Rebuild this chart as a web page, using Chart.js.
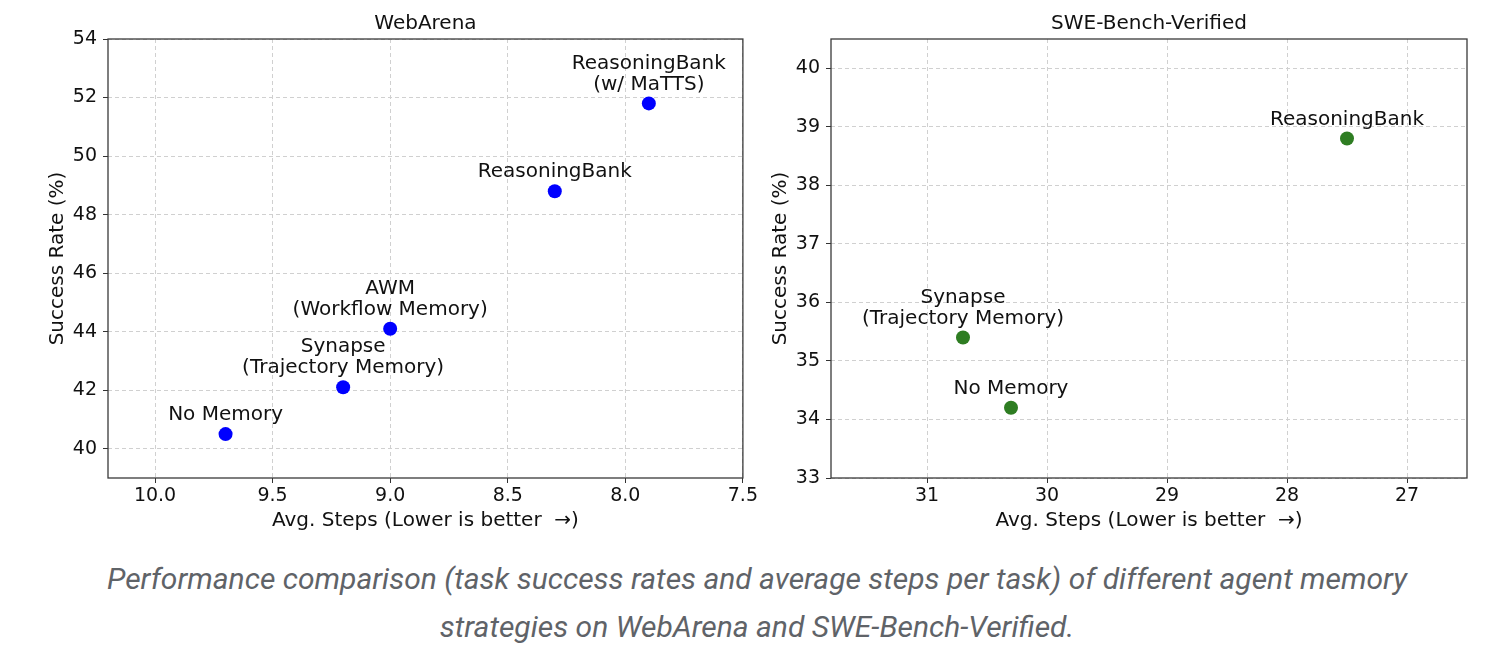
<!DOCTYPE html>
<html>
<head>
<meta charset="utf-8">
<script src="https://cdn.jsdelivr.net/npm/chart.js@4"></script>
<style>
  body { margin: 0; background: #fff; width: 1506px; height: 650px; overflow: hidden; position: relative; }
  .box { position: absolute; top: 0; height: 540px; }
  #left { left: 0; width: 760px; }
  #right { left: 760px; width: 746px; }
  .caption {
    position: absolute; left: 4px; top: 555px; width: 1506px; text-align: center;
    font-family: Roboto, "Noto Sans", sans-serif; font-style: italic; font-size: 30px;
    line-height: 48px; color: #5f6368;
  }
</style>
</head>
<body>
<div class="box" id="left"><canvas id="webChart"></canvas></div>
<div class="box" id="right"><canvas id="sweChart"></canvas></div>
<div class="caption">Performance comparison (task success rates and average steps per task) of different agent memory<br>strategies on WebArena and SWE-Bench-Verified.</div>
<script>
// WebArena
const webLabels = [["No Memory"], ["Synapse", "(Trajectory Memory)"], ["AWM", "(Workflow Memory)"], ["ReasoningBank"], ["ReasoningBank", "(w/ MaTTS)"]];
const webSteps = [9.7, 9.2, 9.0, 8.3, 7.9];
const webSuccess = [40.5, 42.1, 44.1, 48.8, 51.8];
const webTicksX = [10.0, 9.5, 9.0, 8.5, 8.0, 7.5];
const webTicksY = [40, 42, 44, 46, 48, 50, 52, 54];

// SWE-Bench-Verified
const sweLabels = [["No Memory"], ["Synapse", "(Trajectory Memory)"], ["ReasoningBank"]];
const sweSteps = [30.3, 30.7, 27.5];
const sweSuccess = [34.2, 35.4, 38.8];
const sweTicksX = [31, 30, 29, 28, 27];
const sweTicksY = [33, 34, 35, 36, 37, 38, 39, 40];

const FONT = "'DejaVu Sans', sans-serif";

// frame around plot area + point annotations
const extras = {
  id: 'extras',
  afterDatasetsDraw(chart) {
    const {ctx, chartArea: a} = chart;
    ctx.save();
    ctx.strokeStyle = '#3a3a3a';
    ctx.lineWidth = 1.3;
    ctx.strokeRect(a.left, a.top, a.right - a.left, a.bottom - a.top);
    const labels = chart.options.plugins.extras.labels;
    const meta = chart.getDatasetMeta(0);
    ctx.fillStyle = '#111';
    ctx.font = '20px ' + FONT;
    ctx.textAlign = 'center';
    ctx.textBaseline = 'middle';
    meta.data.forEach((pt, i) => {
      const lines = labels[i];
      lines.forEach((ln, j) => {
        ctx.fillText(ln, pt.x, pt.y - 19 - (lines.length - 1 - j) * 21);
      });
    });
    ctx.restore();
  }
};

function makeChart(id, title, xs, ys, labels, color, xMin, xMax, yMin, yMax, ticksX, ticksY, xDigits, geo) {
  const grid = { color: '#d0d0d0', lineWidth: 1, tickColor: '#333', tickLength: 5, tickBorderDash: [] };
  return new Chart(document.getElementById(id), {
    type: 'scatter',
    data: {
      datasets: [{
        data: xs.map((x, i) => ({x: x, y: ys[i]})),
        backgroundColor: color,
        borderColor: color,
        borderWidth: 0,
        pointRadius: 7,
        pointHoverRadius: 7
      }]
    },
    options: {
      responsive: true,
      maintainAspectRatio: false,
      animation: false,
      layout: { padding: { left: 0, right: geo.right, top: 0, bottom: 0 } },
      plugins: {
        legend: { display: false },
        tooltip: { enabled: false },
        title: {
          display: true, text: title, fullSize: false, color: '#111',
          font: { family: FONT, size: 20, weight: 'normal' },
          padding: { top: 12, bottom: 3 }
        },
        extras: { labels: labels }
      },
      scales: {
        x: {
          type: 'linear', reverse: true, min: xMin, max: xMax,
          afterBuildTicks: s => { s.ticks = ticksX.map(v => ({value: v})); },
          afterFit: s => { s.height = 62; },
          grid: grid,
          border: { display: false, dash: [4, 3] },
          ticks: { color: '#111', font: { family: FONT, size: 19 }, padding: 2, maxRotation: 0,
                   callback: v => v.toFixed(xDigits) },
          title: { display: true, text: 'Avg. Steps (Lower is better  \u2192)', color: '#111',
                   font: { family: FONT, size: 20 }, padding: { top: 2, bottom: 7 } }
        },
        y: {
          type: 'linear', min: yMin, max: yMax,
          afterBuildTicks: s => { s.ticks = ticksY.map(v => ({value: v})); },
          afterFit: s => { s.width = geo.left; },
          grid: grid,
          border: { display: false, dash: [4, 3] },
          ticks: { color: '#111', font: { family: FONT, size: 19 }, padding: 6,
                   callback: v => String(v) },
          title: { display: true, text: 'Success Rate (%)', color: '#111',
                   font: { family: FONT, size: 20 }, padding: { top: geo.ytitle, bottom: 0 } }
        }
      }
    },
    plugins: [extras]
  });
}

makeChart('webChart', 'WebArena', webSteps, webSuccess, webLabels, '#0000ff',
  7.5, 10.2, 39, 54, webTicksX, webTicksY, 1, { left: 108, right: 16, ytitle: 46 });
makeChart('sweChart', 'SWE-Bench-Verified', sweSteps, sweSuccess, sweLabels, '#2e7d22',
  26.5, 31.8, 33, 40.5, sweTicksX, sweTicksY, 0, { left: 71, right: 39, ytitle: 9 });
</script>
</body>
</html>
